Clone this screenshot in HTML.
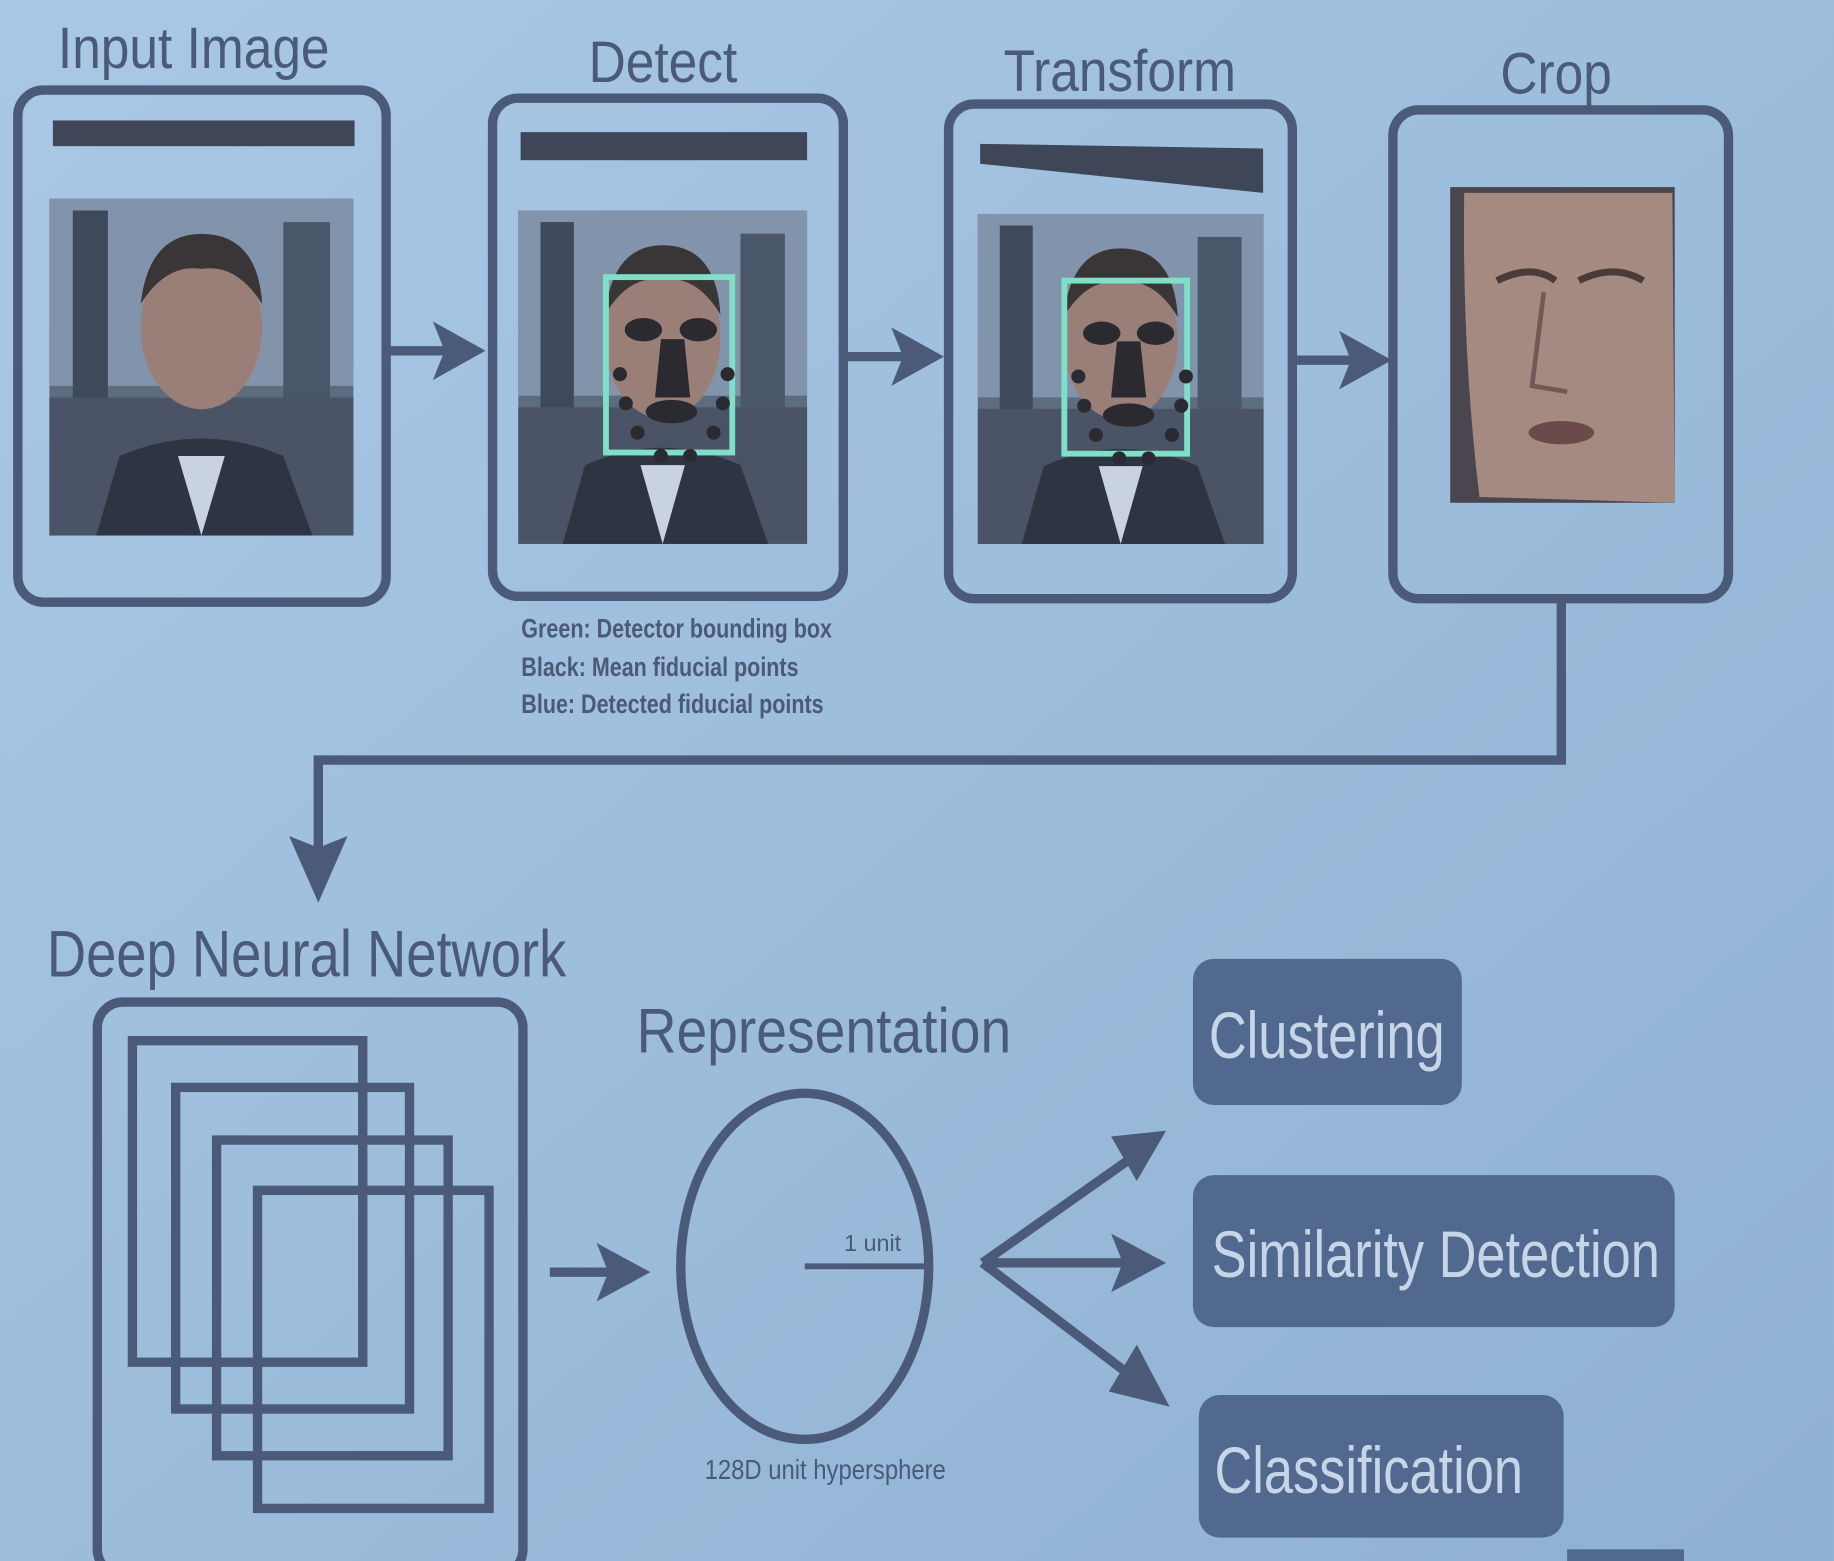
<!DOCTYPE html>
<html><head><meta charset="utf-8"><style>
html,body{margin:0;padding:0;width:1834px;height:1561px;overflow:hidden;background:#9cbcdb}
svg{display:block}
</style></head><body>
<svg width="1834" height="1561" viewBox="0 0 1568 1335" xmlns="http://www.w3.org/2000/svg" font-family="'Liberation Sans', sans-serif">
<defs>
<linearGradient id="bg" x1="0" y1="0" x2="1" y2="1">
<stop offset="0" stop-color="#a9c8e6"/><stop offset="0.5" stop-color="#9dbddc"/><stop offset="1" stop-color="#8eb0d2"/>
</linearGradient>
<g id="photo">
<rect x="0" y="0" width="260" height="288" fill="#5e6c80"/>
<rect x="0" y="0" width="260" height="160" fill="#8294ab"/>
<rect x="20" y="10" width="30" height="190" fill="#3e4a5c"/>
<rect x="200" y="20" width="40" height="150" fill="#4a566a"/>
<rect x="0" y="170" width="260" height="118" fill="#4a5466"/>
<path d="M40 288 L60 220 Q130 190 200 220 L225 288Z" fill="#2e3442"/>
<path d="M110 220 L130 288 L150 220Z" fill="#c9d3e0"/>
<ellipse cx="130" cy="110" rx="52" ry="70" fill="#9a7f78"/>
<path d="M78 90 Q85 30 130 30 Q178 30 182 90 Q160 55 130 60 Q100 55 78 90Z" fill="#3a3638"/>
</g>
</defs>
<rect width="1568" height="1335" fill="url(#bg)"/>
<g fill="none" stroke="#4a5a78" stroke-width="8" stroke-linejoin="round">
<rect x="15" y="77" width="315" height="438" rx="22"/>
<rect x="421" y="84" width="300" height="426" rx="22"/>
<rect x="811" y="89" width="294" height="423" rx="22"/>
<rect x="1191" y="94" width="287" height="418" rx="22"/>
</g>
<g font-size="50" fill="#4a5a78" text-anchor="middle" transform="scale(0.88,1)">
<text x="188" y="58">Input Image</text>
<text x="644" y="70">Detect</text>
<text x="1088" y="78">Transform</text>
<text x="1512" y="80">Crop</text>
</g>
<rect x="45" y="103" width="258" height="22" fill="#3f4658"/>
<use href="#photo" x="42" y="170"/>
<rect x="445" y="113" width="245" height="24" fill="#3f4658"/>
<g transform="translate(443,180) scale(0.95,0.99)"><use href="#photo"/></g>
<rect x="518" y="237" width="108" height="150" fill="none" stroke="#7fe0c8" stroke-width="5"/>
<g fill="#2a2a30">
<ellipse cx="550" cy="282" rx="16" ry="10"/><ellipse cx="597" cy="282" rx="16" ry="10"/>
<path d="M565 290 L585 290 L590 340 L560 340Z"/><ellipse cx="574" cy="352" rx="22" ry="10"/>
<circle cx="530" cy="320" r="6"/><circle cx="535" cy="345" r="6"/><circle cx="545" cy="370" r="6"/><circle cx="565" cy="390" r="6"/><circle cx="590" cy="390" r="6"/><circle cx="610" cy="370" r="6"/><circle cx="618" cy="345" r="6"/><circle cx="622" cy="320" r="6"/>
</g>
<path d="M838 123 L1080 127 L1080 165 L838 140Z" fill="#3f4658"/>
<g transform="translate(836,183) scale(0.94,0.98)"><use href="#photo"/></g>
<rect x="910" y="240" width="105" height="148" fill="none" stroke="#7fe0c8" stroke-width="5"/>
<g fill="#2a2a30">
<ellipse cx="942" cy="285" rx="16" ry="10"/><ellipse cx="988" cy="285" rx="16" ry="10"/>
<path d="M955 292 L975 292 L980 340 L950 340Z"/><ellipse cx="965" cy="355" rx="22" ry="10"/>
<circle cx="922" cy="322" r="6"/><circle cx="927" cy="347" r="6"/><circle cx="937" cy="372" r="6"/><circle cx="957" cy="392" r="6"/><circle cx="982" cy="392" r="6"/><circle cx="1002" cy="372" r="6"/><circle cx="1010" cy="347" r="6"/><circle cx="1014" cy="322" r="6"/>
</g>
<rect x="1240" y="160" width="192" height="270" fill="#4a4650"/>
<path d="M1252 165 L1430 165 L1432 430 L1265 425 Q1250 300 1252 165Z" fill="#a58a82"/>
<path d="M1280 240 Q1310 225 1330 240 M1350 240 Q1380 225 1405 240" stroke="#4a3a38" stroke-width="6" fill="none"/>
<path d="M1320 250 L1310 330 L1340 335" stroke="#6e5a56" stroke-width="4" fill="none"/>
<ellipse cx="1335" cy="370" rx="28" ry="10" fill="#6a4a4a"/>
<g stroke="#4a5a78" stroke-width="8" fill="none">
<line x1="330" y1="300" x2="390" y2="300"/>
<line x1="722" y1="305" x2="782" y2="305"/>
<line x1="1105" y1="308" x2="1165" y2="308"/>
<polyline points="1335,515 1335,650 272,650 272,740"/>
<line x1="470" y1="1088" x2="530" y2="1088"/>
<line x1="840" y1="1080" x2="975" y2="985"/>
<line x1="840" y1="1080" x2="975" y2="1080"/>
<line x1="840" y1="1080" x2="978" y2="1185"/>
</g>
<g fill="#4a5a78">
<path d="M370 275 L415 300 L370 325 L380 300Z"/>
<path d="M762 280 L807 305 L762 330 L772 305Z"/>
<path d="M1145 283 L1190 308 L1145 333 L1155 308Z"/>
<path d="M247 715 L272 772 L297 715 L272 725Z"/>
<path d="M510 1063 L556 1088 L510 1113 L520 1088Z"/>
<path d="M950 972 L997 967 L972 1010Z"/>
<path d="M950 1055 L997 1080 L950 1105 L960 1080Z"/>
<path d="M972 1150 L1000 1203 L948 1190Z"/>
</g>
<g font-size="23" font-weight="bold" fill="#4a5a78" transform="scale(0.8,1)">
<text x="557" y="545">Green: Detector bounding box</text>
<text x="557" y="578">Black: Mean fiducial points</text>
<text x="557" y="610">Blue: Detected fiducial points</text>
</g>
<text x="48" y="835" font-size="56" fill="#4a5a78" transform="scale(0.83,1)">Deep Neural Network</text>
<g fill="none" stroke="#4a5a78" stroke-width="8">
<rect x="83" y="857" width="364" height="490" rx="22"/>
<rect x="113" y="890" width="197" height="275"/>
<rect x="150" y="930" width="200" height="275"/>
<rect x="185" y="975" width="198" height="270"/>
<rect x="220" y="1018" width="198" height="272"/>
<ellipse cx="688" cy="1083" rx="106" ry="148"/>
<line x1="688" y1="1083" x2="793" y2="1083" stroke-width="5"/>
</g>
<text x="805" y="900" font-size="54" fill="#4a5a78" text-anchor="middle" transform="scale(0.875,1)">Representation</text>
<text x="746" y="1070" font-size="20" fill="#4a5a78" text-anchor="middle">1 unit</text>
<text x="830" y="1265" font-size="24" fill="#4a5a78" text-anchor="middle" transform="scale(0.85,1)">128D unit hypersphere</text>
<g fill="#52698f">
<rect x="1020" y="820" width="230" height="125" rx="18"/>
<rect x="1020" y="1005" width="412" height="130" rx="18"/>
<rect x="1025" y="1193" width="312" height="122" rx="18"/>
<rect x="1340" y="1325" width="100" height="12"/>
</g>
<g font-size="56" fill="#c6d6e8" transform="scale(0.8,1)">
<text x="1292" y="905">Clustering</text>
<text x="1295" y="1092">Similarity Detection</text>
<text x="1298" y="1277">Classification</text>
</g>
</svg>
</body></html>
